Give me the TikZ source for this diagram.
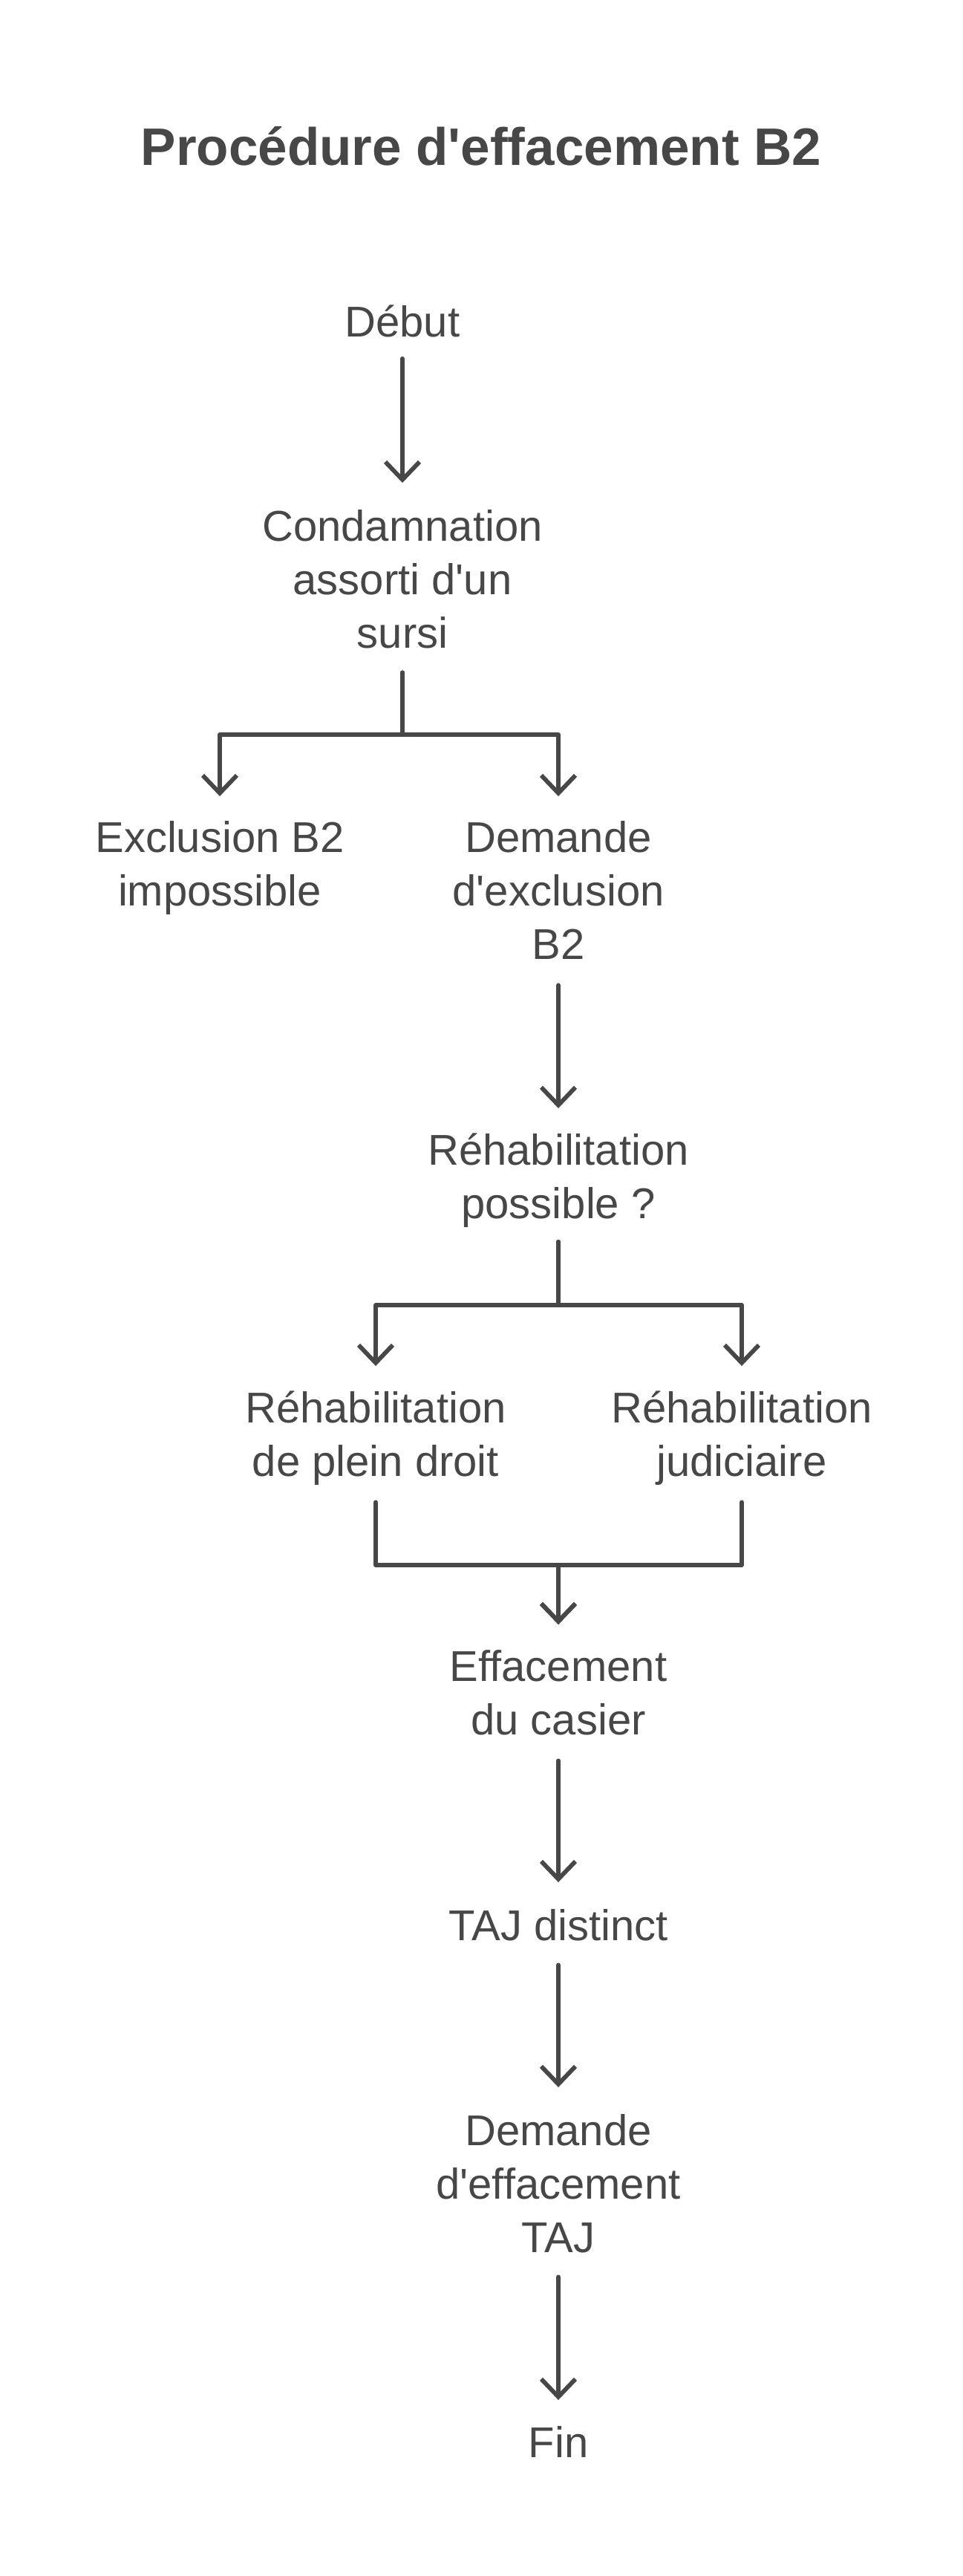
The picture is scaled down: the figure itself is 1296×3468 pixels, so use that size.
\documentclass[tikz,border=0pt]{standalone}
\usepackage{fontspec}
\setmainfont{Liberation Sans}[Ligatures=TeXOff]
\usetikzlibrary{arrows.meta}
\definecolor{ink}{HTML}{474747}
\begin{document}
\begin{tikzpicture}[x=1pt,y=1pt,
  lbl/.style={anchor=north, align=center, inner sep=0pt, text=ink, font=\fontsize{58}{72}\selectfont},
  arr/.style={draw=ink, line width=5.8pt, line cap=round, line join=round, -{Straight Barb[length=24pt,width=46pt]}},
  ttl/.style={anchor=base, inner sep=0pt, text=ink, font=\fontsize{71}{80}\selectfont\bfseries}]
\useasboundingbox (0,0) rectangle (1296,-3468);

\node[ttl] (title) at (648,-223) {Procédure d'effacement B2};

\node[lbl] (deb) at (542,-403) {\strut Début};
\node[lbl] (cond) at (542,-677.6) {\strut Condamnation\\\strut assorti d'un\\\strut sursi};
\node[lbl] (excl) at (296,-1096.6) {\strut Exclusion B2\\\strut impossible};
\node[lbl] (dem) at (752,-1096.6) {\strut Demande\\\strut d'exclusion\\\strut B2};
\node[lbl] (rp) at (752,-1518) {\strut Réhabilitation\\\strut possible ?};
\node[lbl] (rpd) at (506,-1864.6) {\strut Réhabilitation\\\strut de plein droit};
\node[lbl] (rj) at (999,-1864.6) {\strut Réhabilitation\\\strut judiciaire};
\node[lbl] (eff) at (752,-2212.6) {\strut Effacement\\\strut du casier};
\node[lbl] (taj) at (752,-2561.6) {\strut TAJ distinct};
\node[lbl] (det) at (752,-2837.6) {\strut Demande\\\strut d'effacement\\\strut TAJ};
\node[lbl] (fin) at (752,-3257.6) {\strut Fin};

\coordinate (j1) at (542,-989);
\coordinate (j2) at (752,-1757);
\coordinate (j3) at (752,-2107);

\draw[arr, shorten <=7.4pt, shorten >=27.6pt] (deb.south) -- (cond.north);
\draw[arr, shorten <=11.4pt, shorten >=24.6pt] (cond.south) -- (j1) -| (excl.north);
\draw[arr, shorten <=11.4pt, shorten >=24.6pt] (cond.south) -- (j1) -| (dem.north);
\draw[arr, shorten <=13.4pt, shorten >=26pt] (dem.south) -- (rp.north);
\draw[arr, shorten <=9.4pt, shorten >=25.6pt] (rp.south) -- (j2) -| (rpd.north);
\draw[arr, shorten <=9.4pt, shorten >=25.6pt] (rp.south) -- (j2) -| (rj.north);
\draw[arr, shorten <=13.4pt, shorten >=25.6pt] (rpd.south) |- (j3) -- (eff.north);
\draw[arr, shorten <=13.4pt, shorten >=25.6pt] (rj.south) |- (j3) -- (eff.north);
\draw[arr, shorten <=13.4pt, shorten >=27.6pt] (eff.south) -- (taj.north);
\draw[arr, shorten <=11.4pt, shorten >=27.6pt] (taj.south) -- (det.north);
\draw[arr, shorten <=11.4pt, shorten >=26.6pt] (det.south) -- (fin.north);
\end{tikzpicture}
\end{document}
